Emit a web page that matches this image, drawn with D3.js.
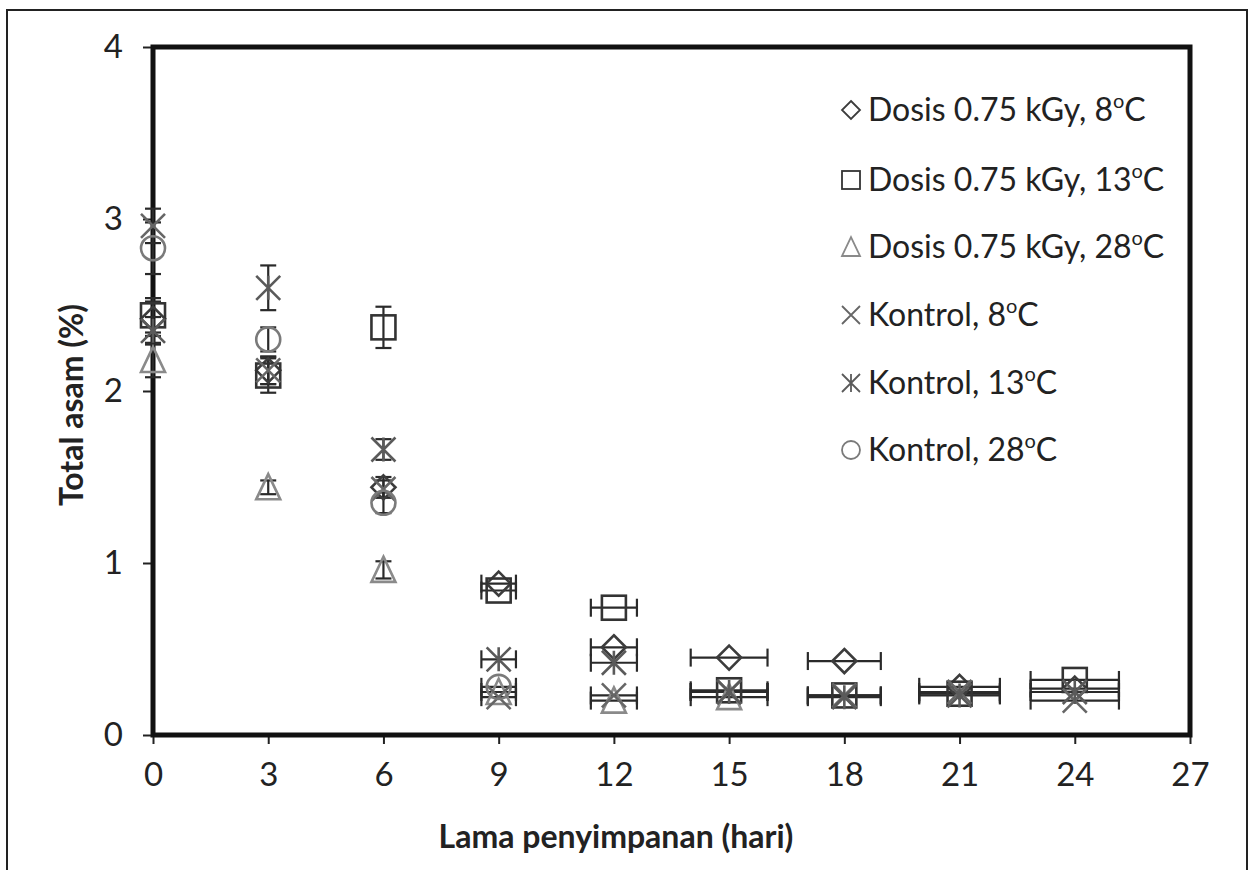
<!DOCTYPE html>
<html>
<head>
<meta charset="utf-8">
<script src="https://cdn.jsdelivr.net/npm/d3@7/dist/d3.min.js"></script>
<style>
  html, body { margin: 0; padding: 0; background: #fff; }
  svg { display: block; }
</style>
</head>
<body>
<svg id="chart" width="1251" height="870"></svg>
<script>
// Storage days
const days = [0, 3, 6, 9, 12, 15, 18, 21, 24];

// Total acid (%) per series, null where no measurement
const dosis8  = [2.42, 2.12, 1.44, 0.88, 0.51, 0.45, 0.43, 0.28, 0.27];
const dosis13 = [2.44, 2.09, 2.37, 0.84, 0.74, 0.26, 0.23, 0.24, 0.32];
const dosis28 = [2.18, 1.44, 0.96, 0.25, 0.20, 0.22, null, null, null];
const kontrol8  = [2.96, 2.12, 1.43, 0.22, 0.23, 0.25, 0.23, 0.25, 0.20];
const kontrol13 = [2.35, 2.60, 1.66, 0.44, 0.42, 0.25, 0.22, 0.23, 0.25];
const kontrol28 = [2.83, 2.30, 1.35, 0.28, null, null, null, null, null];

// Vertical error (acid %) and horizontal error (days) per point
const yErrDosis8  = [0.10, 0.08, 0.06, 0, 0, 0, 0, 0, 0];
const yErrDosis13 = [0.10, 0.10, 0.12, 0, 0, 0, 0, 0, 0];
const yErrDosis28 = [0.10, 0.04, 0.05, 0, 0, 0, 0, 0, 0];
const yErrKontrol8  = [0.10, 0.08, 0.05, 0, 0, 0, 0, 0, 0];
const yErrKontrol13 = [0.08, 0.13, 0.06, 0, 0, 0, 0, 0, 0];
const yErrKontrol28 = [0.15, 0.07, 0.06, 0, 0, 0, 0, 0, 0];
const xErr = [0, 0, 0, 0.45, 0.6, 1.0, 0.95, 1.05, 1.15];

const seriesNames = [
  "Dosis 0.75 kGy, 8",
  "Dosis 0.75 kGy, 13",
  "Dosis 0.75 kGy, 28",
  "Kontrol, 8",
  "Kontrol, 13",
  "Kontrol, 28"
];
const seriesShapes = ["diamond", "square", "triangle", "cross", "asterisk", "circle"];
const seriesColors = ["#3c3c3c", "#333333", "#8a8a8a", "#666666", "#5a5a5a", "#7a7a7a"];
const seriesValues = [dosis8, dosis13, dosis28, kontrol8, kontrol13, kontrol28];
const seriesYErr = [yErrDosis8, yErrDosis13, yErrDosis28, yErrKontrol8, yErrKontrol13, yErrKontrol28];

const xTicks = [0, 3, 6, 9, 12, 15, 18, 21, 24, 27];
const yTicks = [0, 1, 2, 3, 4];

const svg = d3.select("#chart");
const plot = { left: 153, top: 47, right: 1190, bottom: 735 };

const x = d3.scaleLinear().domain([0, 27]).range([plot.left, plot.right]);
const y = d3.scaleLinear().domain([0, 4]).range([plot.bottom, plot.top]);

const tickFont = "Lato, 'Open Sans', sans-serif";

// outer figure frame
svg.append("rect")
  .attr("x", 7).attr("y", 10).attr("width", 1240).attr("height", 880)
  .attr("fill", "#fff").attr("stroke", "#222").attr("stroke-width", 2);

// axes
const xAxis = d3.axisBottom(x).tickValues(xTicks).tickFormat(d3.format("d"))
  .tickSize(9).tickSizeOuter(0).tickPadding(19);
const yAxis = d3.axisLeft(y).tickValues(yTicks).tickFormat(d3.format("d"))
  .tickSize(10).tickSizeOuter(0).tickPadding(20);

const gx = svg.append("g").attr("transform", `translate(0,${plot.bottom})`).call(xAxis);
const gy = svg.append("g").attr("transform", `translate(${plot.left},0)`).call(yAxis);
[gx, gy].forEach(g => {
  g.select(".domain").remove();
  g.selectAll(".tick line").attr("stroke", "#222").attr("stroke-width", 2);
  g.selectAll(".tick text")
    .attr("fill", "#222")
    .style("font-family", tickFont)
    .style("font-size", "33px");
});

// plot frame (thick)
svg.append("rect")
  .attr("x", plot.left).attr("y", plot.top)
  .attr("width", plot.right - plot.left).attr("height", plot.bottom - plot.top)
  .attr("fill", "none").attr("stroke", "#111").attr("stroke-width", 5);

// axis titles
svg.append("text")
  .attr("x", 616).attr("y", 848)
  .attr("text-anchor", "middle")
  .style("font-family", "Lato, sans-serif").style("font-weight", "bold").style("font-size", "32px")
  .attr("fill", "#222")
  .text("Lama penyimpanan (hari)");

svg.append("text")
  .attr("transform", `translate(83,405) rotate(-90)`)
  .attr("text-anchor", "middle")
  .style("font-family", "Lato, sans-serif").style("font-weight", "bold").style("font-size", "32px")
  .attr("fill", "#222")
  .text("Total asam (%)");

// marker drawing
const R = 12;
function drawMarker(g, shape, cx, cy, color, r, sw) {
  const s = g.append("g").attr("transform", `translate(${cx},${cy})`)
    .attr("fill", "none").attr("stroke", color).attr("stroke-width", sw);
  if (shape === "diamond") {
    s.append("path").attr("d", `M0,${-r}L${r},0L0,${r}L${-r},0Z`);
  } else if (shape === "square") {
    s.append("rect").attr("x", -r).attr("y", -r).attr("width", 2 * r).attr("height", 2 * r);
  } else if (shape === "triangle") {
    s.append("path").attr("d", `M0,${-r * 1.1}L${r},${r}L${-r},${r}Z`);
  } else if (shape === "cross") {
    s.append("path").attr("d", `M${-r},${-r}L${r},${r}M${r},${-r}L${-r},${r}`);
  } else if (shape === "asterisk") {
    s.append("path").attr("d", `M${-r},${-r}L${r},${r}M${r},${-r}L${-r},${r}M0,${-r}L0,${r}`);
  } else if (shape === "circle") {
    s.append("circle").attr("r", r);
  }
}

const marks = svg.append("g");

// error bars first
seriesValues.forEach((vals, si) => {
  const eg = marks.append("g").attr("stroke", "#2a2a2a").attr("stroke-width", 2.2).attr("fill", "none");
  days.forEach((d, i) => {
    const v = vals[i];
    if (v === null) return;
    const ye = seriesYErr[si][i];
    const cx = x(d), cy = y(v);
    if (ye > 0) {
      eg.append("line").attr("x1", cx).attr("x2", cx).attr("y1", y(v + ye)).attr("y2", y(v - ye));
      eg.append("line").attr("x1", cx - 8).attr("x2", cx + 8).attr("y1", y(v + ye)).attr("y2", y(v + ye));
      eg.append("line").attr("x1", cx - 8).attr("x2", cx + 8).attr("y1", y(v - ye)).attr("y2", y(v - ye));
    }
    const xe = xErr[i];
    if (xe > 0) {
      eg.append("line").attr("x1", x(d - xe)).attr("x2", x(d + xe)).attr("y1", cy).attr("y2", cy);
      eg.append("line").attr("x1", x(d - xe)).attr("x2", x(d - xe)).attr("y1", cy - 9).attr("y2", cy + 9);
      eg.append("line").attr("x1", x(d + xe)).attr("x2", x(d + xe)).attr("y1", cy - 9).attr("y2", cy + 9);
    }
  });
});

// markers
seriesValues.forEach((vals, si) => {
  days.forEach((d, i) => {
    const v = vals[i];
    if (v === null) return;
    drawMarker(marks, seriesShapes[si], x(d), y(v), seriesColors[si], R, 2.6);
  });
});

// legend
const legendRows = [110, 180, 247, 315, 383, 450];
const lg = svg.append("g");
seriesNames.forEach((name, i) => {
  const ly = legendRows[i];
  drawMarker(lg, seriesShapes[i], 851, ly, seriesColors[i], 9, 1.8);
  const t = lg.append("text")
    .attr("x", 868).attr("y", ly + 11)
    .style("font-family", tickFont).style("font-size", "32px")
    .attr("fill", "#222");
  t.append("tspan").text(name);
  t.append("tspan").attr("dy", -13).style("font-size", "20px").text("o");
  t.append("tspan").attr("dy", 13).text("C");
});
</script>
</body>
</html>
